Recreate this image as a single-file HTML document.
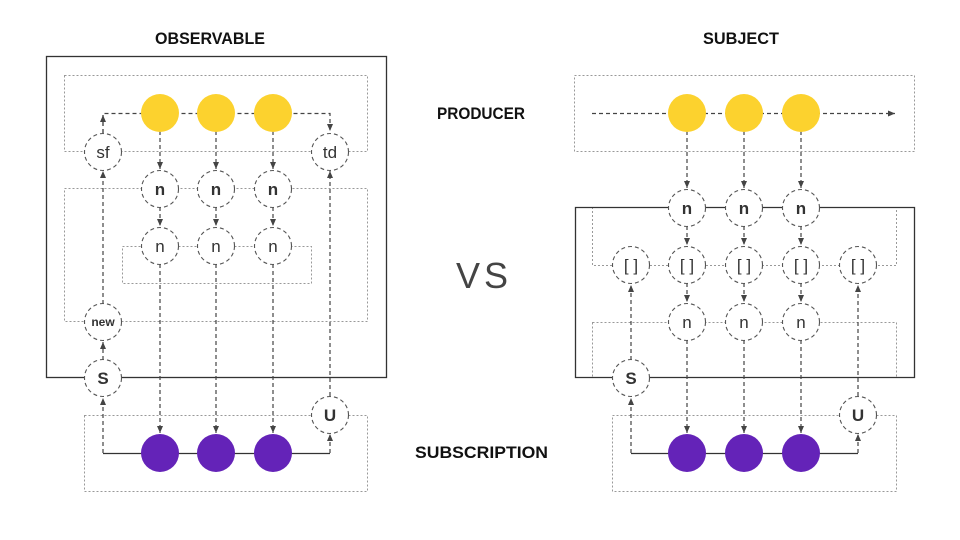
<!DOCTYPE html>
<html><head><meta charset="utf-8"><style>html,body{margin:0;padding:0;background:#fff}svg{display:block}</style></head>
<body>
<svg width="960" height="540" viewBox="0 0 960 540" xmlns="http://www.w3.org/2000/svg" font-family="Liberation Sans, sans-serif">
<defs>
<marker id="a" markerWidth="8" markerHeight="8" refX="7" refY="4" orient="auto" markerUnits="userSpaceOnUse"><path d="M0,1 L7,4 L0,7 Z" fill="#444"/></marker>
</defs>
<rect width="960" height="540" fill="#fff"/>
<g font-weight="bold" fill="#111" font-size="17">
<text x="155" y="44" textLength="110" lengthAdjust="spacingAndGlyphs">OBSERVABLE</text>
<text x="703" y="44" textLength="76" lengthAdjust="spacingAndGlyphs">SUBJECT</text>
<text x="437" y="119" textLength="88" lengthAdjust="spacingAndGlyphs">PRODUCER</text>
<text x="415" y="458" textLength="133" lengthAdjust="spacingAndGlyphs">SUBSCRIPTION</text>
</g>
<text x="456" y="288" font-size="36" fill="#444" textLength="52" lengthAdjust="spacing">VS</text>

<g fill="none" stroke="#999" stroke-width="1" stroke-dasharray="2,2">
<rect x="64.5" y="75.5" width="303" height="76"/>
<rect x="64.5" y="188.5" width="303" height="133"/>
<rect x="122.5" y="246.5" width="189" height="37"/>
<rect x="84.5" y="415.5" width="283" height="76"/>
<rect x="574.5" y="75.5" width="340" height="76"/>
<path d="M592.5,207 V265.5 H896.5 V207"/>
<rect x="592.5" y="322.5" width="304" height="55"/>
<rect x="612.5" y="415.5" width="284" height="76"/>
</g>
<g fill="none" stroke="#333" stroke-width="1.3">
<rect x="46.5" y="56.5" width="340" height="321"/>
<path d="M575.5,207.5 H914.5 V377.5 H575.5 Z"/>
<path d="M103,453.5 H330"/>
<path d="M631,453.5 H858"/>
</g>
<g fill="none" stroke="#444" stroke-width="1.2" stroke-dasharray="4,3">
<path d="M103,133 V113.5 H330 V131" marker-end="url(#a)"/>
<path d="M103,133 V115" marker-end="url(#a)"/>
<path d="M103,304 V171" marker-end="url(#a)"/>
<path d="M103,360 V342" marker-end="url(#a)"/>
<path d="M103,453 V398" marker-end="url(#a)"/>
<path d="M330,396 V171" marker-end="url(#a)"/>
<path d="M330,453 V434" marker-end="url(#a)"/>
<path d="M160,131 V169" marker-end="url(#a)"/><path d="M216,131 V169" marker-end="url(#a)"/><path d="M273,131 V169" marker-end="url(#a)"/>
<path d="M160,207 V226" marker-end="url(#a)"/><path d="M216,207 V226" marker-end="url(#a)"/><path d="M273,207 V226" marker-end="url(#a)"/>
<path d="M160,264 V433" marker-end="url(#a)"/><path d="M216,264 V433" marker-end="url(#a)"/><path d="M273,264 V433" marker-end="url(#a)"/>
<path d="M592,113.5 H895" marker-end="url(#a)"/>
<path d="M687,131 V188" marker-end="url(#a)"/><path d="M744,131 V188" marker-end="url(#a)"/><path d="M801,131 V188" marker-end="url(#a)"/>
<path d="M687,226 V245" marker-end="url(#a)"/><path d="M744,226 V245" marker-end="url(#a)"/><path d="M801,226 V245" marker-end="url(#a)"/>
<path d="M687,283 V302" marker-end="url(#a)"/><path d="M744,283 V302" marker-end="url(#a)"/><path d="M801,283 V302" marker-end="url(#a)"/>
<path d="M687,340 V433" marker-end="url(#a)"/><path d="M744,340 V433" marker-end="url(#a)"/><path d="M801,340 V433" marker-end="url(#a)"/>
<path d="M631,360 V285" marker-end="url(#a)"/>
<path d="M631,453 V398" marker-end="url(#a)"/>
<path d="M858,396 V285" marker-end="url(#a)"/>
<path d="M858,453 V434" marker-end="url(#a)"/>
</g>
<g fill="#fcd22e">
<circle cx="160" cy="113" r="19"/><circle cx="216" cy="113" r="19"/><circle cx="273" cy="113" r="19"/>
<circle cx="687" cy="113" r="19"/><circle cx="744" cy="113" r="19"/><circle cx="801" cy="113" r="19"/>
</g>
<g fill="#6423b8">
<circle cx="160" cy="453" r="19"/><circle cx="216" cy="453" r="19"/><circle cx="273" cy="453" r="19"/>
<circle cx="687" cy="453" r="19"/><circle cx="744" cy="453" r="19"/><circle cx="801" cy="453" r="19"/>
</g>
<g fill="#fff" stroke="#555" stroke-width="1.1" stroke-dasharray="4,3">
<circle cx="103" cy="152" r="18.5"/><circle cx="330" cy="152" r="18.5"/>
<circle cx="160" cy="189" r="18.5"/><circle cx="216" cy="189" r="18.5"/><circle cx="273" cy="189" r="18.5"/>
<circle cx="160" cy="246" r="18.5"/><circle cx="216" cy="246" r="18.5"/><circle cx="273" cy="246" r="18.5"/>
<circle cx="103" cy="322" r="18.5"/><circle cx="103" cy="378" r="18.5"/><circle cx="330" cy="415" r="18.5"/>
<circle cx="687" cy="208" r="18.5"/><circle cx="744" cy="208" r="18.5"/><circle cx="801" cy="208" r="18.5"/>
<circle cx="631" cy="265" r="18.5"/><circle cx="687" cy="265" r="18.5"/><circle cx="744" cy="265" r="18.5"/><circle cx="801" cy="265" r="18.5"/><circle cx="858" cy="265" r="18.5"/>
<circle cx="687" cy="322" r="18.5"/><circle cx="744" cy="322" r="18.5"/><circle cx="801" cy="322" r="18.5"/>
<circle cx="631" cy="378" r="18.5"/><circle cx="858" cy="415" r="18.5"/>
</g>
<g fill="#333" text-anchor="middle" font-size="17">
<text x="103" y="158">sf</text>
<text x="330" y="158">td</text>
<g font-weight="bold">
<text x="160" y="195">n</text><text x="216" y="195">n</text><text x="273" y="195">n</text>
<text x="687" y="214">n</text><text x="744" y="214">n</text><text x="801" y="214">n</text>
<text x="103" y="384">S</text><text x="330" y="421">U</text>
<text x="631" y="384">S</text><text x="858" y="421">U</text>
<text x="103" y="326" font-size="12">new</text>
</g>
<text x="160" y="252">n</text><text x="216" y="252">n</text><text x="273" y="252">n</text>
<text x="687" y="328">n</text><text x="744" y="328">n</text><text x="801" y="328">n</text>
<text x="631" y="271">[ ]</text><text x="687" y="271">[ ]</text><text x="744" y="271">[ ]</text><text x="801" y="271">[ ]</text><text x="858" y="271">[ ]</text>
</g>
</svg>
</body></html>
